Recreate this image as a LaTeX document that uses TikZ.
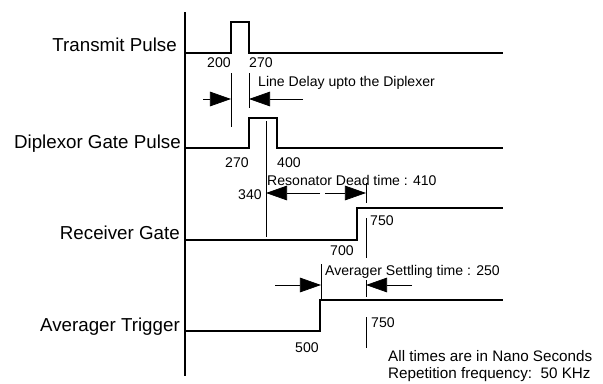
\documentclass[tikz,border=0pt]{standalone}
\usepackage{fontspec}
\setmainfont{Liberation Sans}
\usetikzlibrary{arrows.meta}

\begin{document}
\begin{tikzpicture}[x=0.03cm, y=-0.03cm,
    signal/.style={line width=2.2pt, line join=miter},
    marker/.style={line width=0.6pt},
    dimarrow/.style={line width=0.6pt, -{Triangle[length=18pt,width=12.5pt]}},
    siglabel/.style={anchor=base east, inner sep=0pt, font=\fontsize{16}{18}\selectfont},
    timelabel/.style={anchor=base west, inner sep=0pt, font=\fontsize{12}{14}\selectfont},
    notelabel/.style={anchor=base west, inner sep=0pt, font=\fontsize{13}{15}\selectfont}]
    \useasboundingbox (0,0) rectangle (603,383);

    % Time axis
    \draw[signal] (185,12) -- (185,376);

    % Signal waveforms
    \draw[signal] (185,53) -- (231,53) -- (231,22) -- (249,22) -- (249,53) -- (503,53);
    \draw[signal] (185,148) -- (249,148) -- (249,118) -- (277,118) -- (277,148) -- (503,148);
    \draw[signal] (185,240) -- (357,240) -- (357,208) -- (503,208);
    \draw[signal] (185,331) -- (320,331) -- (320,300) -- (503,300);

    % Signal names
    \node[siglabel] (tx)  at (177,51)  {Transmit Pulse};
    \node[siglabel] (dgp) at (181,148) {Diplexor Gate Pulse};
    \node[siglabel] (rxg) at (180,239) {Receiver Gate};
    \node[siglabel] (avt) at (180,331) {Averager Trigger};

    % Marker lines
    \draw[marker] (231,73) -- (231,127);
    \draw[marker] (249,73) -- (249,108);
    \draw[marker] (266,121) -- (266,237);
    \draw[marker] (366,183) -- (366,203);
    \draw[marker] (366,218) -- (366,258);
    \draw[marker] (321,264) -- (321,300);
    \draw[marker] (366,280) -- (366,297);
    \draw[marker] (366,317) -- (366,348);

    % Arrow ends
    \coordinate (ld1) at (231,99);  \coordinate (ld1t) at (203,99);
    \coordinate (ld2) at (249,99);  \coordinate (ld2t) at (303,99);
    \coordinate (rd1) at (266,193); \coordinate (rd1t) at (320,193);
    \coordinate (rd2) at (366,193); \coordinate (rd2t) at (325,193);
    \coordinate (as1) at (321,285); \coordinate (as1t) at (275,285);
    \coordinate (as2) at (366,285); \coordinate (as2t) at (412,285);

    % Delay arrows
    \draw[dimarrow] (ld1t) -- (ld1);
    \draw[dimarrow] (ld2t) -- (ld2);
    \draw[dimarrow] (rd1t) -- (rd1);
    \draw[dimarrow] (rd2t) -- (rd2);
    \draw[dimarrow] (as1t) -- (as1);
    \draw[dimarrow] (as2t) -- (as2);

    % Time values
    \node[timelabel] (t200)  at (207,67)  {200};
    \node[timelabel] (t270a) at (249,67)  {270};
    \node[timelabel] (linedelay) at (258,86) {Line Delay upto the Diplexer};
    \node[timelabel] (t270b) at (225,167) {270};
    \node[timelabel] (t400)  at (277,167) {400};
    \node[timelabel] (t340)  at (238,199) {340};
    \node[timelabel] (deadtime) at (267,185) {Resonator Dead time : 410};
    \node[timelabel] (t750a) at (370,225) {750};
    \node[timelabel] (t700)  at (330,255) {700};
    \node[timelabel] (settling) at (325,275) {Averager Settling time : 250};
    \node[timelabel] (t750b) at (371,327) {750};
    \node[timelabel] (t500)  at (295,352) {500};

    % Notes
    \node[notelabel] (unit) at (388,361) {All times are in Nano Seconds};
    \node[notelabel] (freq) at (388,378) {Repetition frequency:\ \ 50 KHz};
\end{tikzpicture}
\end{document}
